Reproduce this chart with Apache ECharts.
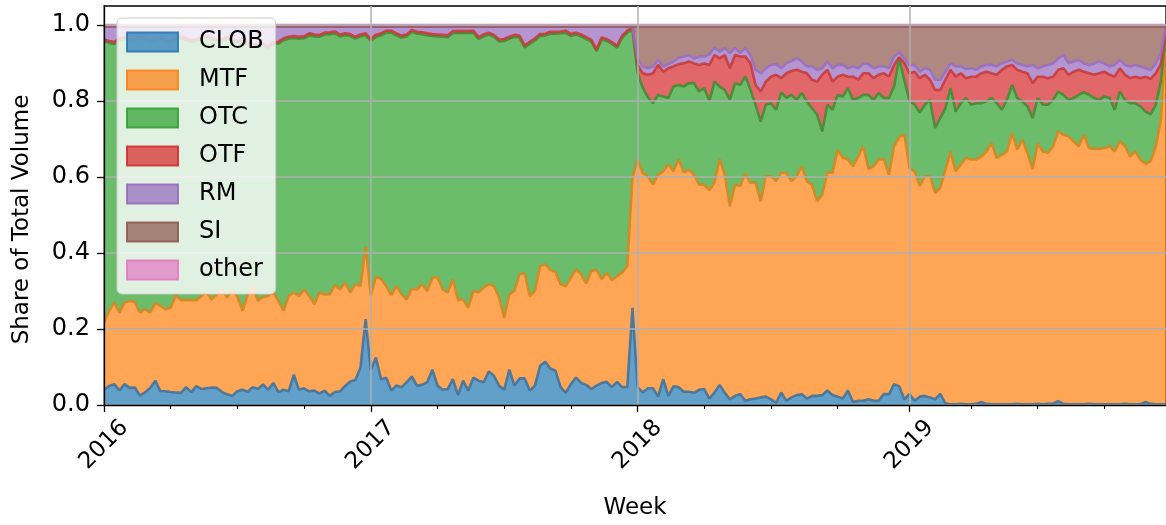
<!DOCTYPE html>
<html><head><meta charset="utf-8">
<script src="https://cdn.jsdelivr.net/npm/echarts@6/dist/echarts.min.js"></script>
<style>html,body{margin:0;padding:0;background:#fff}#c{width:1166px;height:525px}</style>
</head><body><div id="c"></div>
<script>
const seriesNames = ['CLOB','MTF','OTC','OTF','RM','SI','other'];
const yearTicks = [0, 52, 104, 157];
const yearLabels = ['2016', '2017', '2018', '2019'];
const minorTicks = [13, 26, 39, 65, 78, 91, 117, 130, 143, 169, 182, 195];
const yTicks = [0, 0.2, 0.4, 0.6, 0.8, 1.0];

const clob = [
.040,.050,.055,.038,.055,.045,.046,.025,.033,.045,
.064,.036,.036,.034,.033,.032,.047,.034,.050,.042,
.044,.046,.045,.034,.028,.024,.036,.040,.035,.047,
.042,.054,.040,.058,.034,.040,.036,.080,.040,.044,
.036,.038,.030,.038,.024,.034,.036,.050,.062,.066,
.099,.226,.092,.125,.068,.072,.038,.051,.047,.060,
.075,.051,.053,.060,.093,.051,.040,.042,.068,.026,
.064,.038,.072,.064,.060,.088,.077,.051,.040,.093,
.051,.070,.070,.038,.051,.103,.114,.096,.090,.047,
.032,.055,.072,.058,.053,.042,.051,.058,.061,.047,
.061,.047,.047,.256,.047,.033,.044,.044,.022,.068,
.024,.049,.047,.035,.035,.032,.040,.042,.017,.033,
.053,.032,.015,.024,.029,.011,.015,.017,.020,.022,
.015,.006,.033,.011,.020,.026,.028,.017,.024,.024,
.026,.038,.026,.022,.017,.038,.008,.011,.011,.015,
.011,.011,.029,.028,.055,.049,.015,.029,.011,.022,
.024,.020,.015,.029,.004,.002,.002,.003,.002,.002,
.003,.008,.003,.002,.002,.002,.002,.002,.003,.002,
.002,.002,.003,.002,.003,.004,.010,.003,.002,.002,
.002,.002,.003,.002,.002,.002,.002,.002,.002,.003,
.002,.002,.002,.008,.003,.002,.002,.002];

const mtf = [
.177,.198,.215,.205,.215,.229,.225,.218,.219,.198,
.204,.225,.216,.222,.256,.244,.229,.242,.226,.245,
.252,.232,.246,.270,.255,.280,.249,.208,.255,.268,
.232,.230,.247,.238,.240,.208,.251,.216,.247,.260,
.251,.227,.266,.253,.267,.281,.268,.272,.234,.252,
.214,.192,.195,.212,.264,.241,.251,.262,.244,.218,
.231,.253,.265,.240,.242,.286,.264,.254,.263,.250,
.214,.218,.228,.232,.249,.230,.236,.232,.190,.198,
.249,.274,.276,.249,.249,.263,.256,.259,.260,.271,
.281,.280,.285,.286,.267,.311,.304,.273,.287,.281,
.278,.301,.319,.342,.599,.578,.558,.536,.584,.547,
.609,.566,.600,.577,.584,.574,.540,.538,.548,.553,
.594,.574,.508,.556,.547,.598,.569,.569,.516,.580,
.587,.583,.578,.600,.569,.576,.600,.572,.556,.512,
.528,.574,.585,.650,.633,.609,.620,.643,.670,.606,
.617,.635,.618,.578,.626,.656,.696,.595,.604,.554,
.578,.582,.543,.542,.615,.665,.613,.630,.648,.644,
.643,.646,.664,.687,.648,.657,.665,.714,.669,.696,
.661,.619,.685,.665,.660,.677,.710,.708,.705,.692,
.679,.709,.673,.672,.672,.674,.679,.665,.692,.678,
.652,.665,.644,.627,.638,.679,.748,.973];

const otc = [
.740,.705,.680,.717,.693,.681,.687,.722,.709,.712,
.692,.702,.705,.697,.672,.689,.684,.679,.682,.676,
.671,.683,.664,.653,.680,.656,.668,.710,.660,.630,
.669,.663,.650,.654,.677,.712,.677,.670,.677,.661,
.686,.705,.673,.684,.685,.663,.666,.651,.675,.646,
.657,.555,.671,.632,.641,.667,.691,.660,.676,.692,
.676,.673,.658,.673,.636,.633,.665,.672,.648,.703,
.701,.723,.680,.667,.661,.657,.656,.674,.728,.673,
.669,.623,.595,.664,.660,.605,.602,.622,.627,.660,
.667,.636,.618,.626,.643,.603,.576,.631,.610,.622,
.601,.619,.614,.390,.229,.224,.208,.214,.210,.197,
.175,.223,.195,.226,.228,.241,.245,.254,.234,.265,
.191,.223,.280,.267,.266,.256,.246,.204,.210,.188,
.192,.188,.212,.197,.227,.201,.193,.210,.201,.228,
.166,.178,.166,.144,.162,.187,.175,.154,.135,.195,
.175,.175,.161,.202,.157,.207,.144,.176,.175,.194,
.188,.201,.171,.184,.162,.167,.157,.161,.158,.144,
.148,.140,.132,.119,.144,.118,.136,.126,.136,.101,
.123,.134,.120,.123,.127,.122,.105,.105,.096,.114,
.135,.112,.140,.134,.129,.136,.127,.110,.131,.122,
.140,.127,.140,.137,.124,.109,.101,.010];

const otf = [
.005,.005,.005,.005,.005,.005,.005,.005,.005,.005,
.005,.005,.005,.005,.005,.005,.005,.005,.005,.005,
.005,.005,.005,.005,.005,.005,.005,.005,.005,.005,
.005,.005,.005,.005,.005,.005,.005,.005,.005,.005,
.005,.005,.005,.005,.005,.005,.005,.005,.005,.005,
.005,.005,.005,.005,.005,.005,.005,.005,.005,.005,
.005,.005,.005,.005,.005,.005,.005,.005,.005,.005,
.005,.005,.005,.005,.005,.005,.005,.005,.005,.005,
.005,.005,.005,.005,.005,.005,.005,.005,.005,.005,
.005,.005,.005,.005,.005,.005,.005,.005,.005,.005,
.005,.005,.005,.005,.020,.038,.059,.079,.079,.065,
.078,.053,.055,.061,.057,.052,.070,.065,.096,.070,
.074,.092,.083,.074,.075,.052,.069,.052,.079,.061,
.070,.092,.037,.065,.063,.079,.056,.074,.075,.087,
.149,.092,.074,.048,.057,.030,.061,.048,.057,.057,
.057,.048,.065,.056,.057,.003,.045,.073,.087,.090,
.079,.053,.100,.074,.075,.048,.092,.079,.052,.074,
.070,.079,.078,.065,.075,.105,.088,.053,.074,.078,
.087,.092,.056,.074,.070,.061,.057,.070,.066,.069,
.066,.054,.057,.061,.070,.065,.061,.087,.061,.066,
.066,.070,.074,.092,.093,.083,.046,.005];

const rm = [
.034,.038,.041,.031,.028,.036,.033,.026,.030,.036,
.031,.028,.034,.038,.030,.026,.031,.036,.033,.028,
.024,.030,.036,.034,.028,.031,.038,.033,.041,.046,
.048,.044,.054,.041,.040,.031,.027,.025,.027,.026,
.018,.021,.022,.016,.015,.013,.021,.018,.020,.027,
.021,.018,.033,.022,.018,.011,.011,.018,.024,.021,
.009,.014,.015,.018,.020,.021,.022,.023,.012,.012,
.012,.012,.011,.028,.021,.016,.022,.034,.033,.027,
.022,.024,.050,.040,.031,.020,.019,.014,.014,.013,
.011,.020,.016,.021,.028,.035,.060,.029,.033,.041,
.051,.024,.011,.003,.017,.018,.017,.018,.013,.014,
.011,.013,.017,.018,.017,.013,.022,.018,.028,.020,
.018,.018,.040,.018,.009,.022,.022,.040,.048,.035,
.031,.028,.026,.026,.026,.030,.027,.018,.035,.031,
.017,.022,.035,.031,.026,.022,.027,.030,.026,.024,
.026,.022,.018,.022,.022,.013,.012,.020,.018,.017,
.017,.026,.027,.027,.021,.017,.027,.018,.024,.022,
.018,.018,.018,.022,.022,.017,.013,.013,.017,.018,
.018,.048,.022,.027,.035,.035,.030,.035,.030,.027,
.026,.022,.022,.030,.031,.022,.022,.031,.022,.026,
.031,.031,.031,.022,.024,.026,.028,.004];

const si = [
0,0,0,0,0,0,0,0,0,0,
0,0,0,0,0,0,0,0,0,0,
0,0,0,0,0,0,0,0,0,0,
0,0,0,0,0,0,0,0,0,0,
0,0,0,0,0,0,0,0,0,0,
0,0,0,0,0,0,0,0,0,0,
0,0,0,0,0,0,0,0,0,0,
0,0,0,0,0,0,0,0,0,0,
0,0,0,0,0,0,0,0,0,0,
0,0,0,0,0,0,0,0,0,0,
0,0,0,0,.084,.105,.110,.105,.088,.105,
.099,.092,.082,.079,.075,.084,.079,.079,.073,.055,
.066,.057,.070,.057,.070,.057,.075,.114,.123,.110,
.101,.099,.110,.097,.091,.084,.092,.105,.105,.114,
.110,.092,.110,.101,.101,.110,.105,.110,.097,.099,
.110,.105,.105,.110,.079,.068,.084,.103,.101,.119,
.110,.114,.140,.140,.119,.097,.105,.105,.112,.110,
.114,.105,.101,.101,.105,.097,.092,.088,.097,.101,
.105,.101,.110,.105,.101,.097,.084,.075,.097,.092,
.088,.097,.101,.097,.092,.097,.105,.101,.088,.101,
.105,.101,.105,.110,.114,.097,.071,.002];

const other = [
.004,.004,.004,.004,.004,.004,.004,.004,.004,.004,
.004,.004,.004,.004,.004,.004,.004,.004,.004,.004,
.004,.004,.004,.004,.004,.004,.004,.004,.004,.004,
.004,.004,.004,.004,.004,.004,.004,.004,.004,.004,
.004,.004,.004,.004,.004,.004,.004,.004,.004,.004,
.004,.004,.004,.004,.004,.004,.004,.004,.004,.004,
.004,.004,.004,.004,.004,.004,.004,.004,.004,.004,
.004,.004,.004,.004,.004,.004,.004,.004,.004,.004,
.004,.004,.004,.004,.004,.004,.004,.004,.004,.004,
.004,.004,.004,.004,.004,.004,.004,.004,.004,.004,
.004,.004,.004,.004,.004,.004,.004,.004,.004,.004,
.004,.004,.004,.004,.004,.004,.004,.004,.004,.004,
.004,.004,.004,.004,.004,.004,.004,.004,.004,.004,
.004,.004,.004,.004,.004,.004,.004,.004,.004,.004,
.004,.004,.004,.004,.004,.004,.004,.004,.004,.004,
.004,.004,.004,.004,.004,.004,.004,.004,.004,.004,
.004,.004,.004,.004,.004,.004,.004,.004,.004,.004,
.004,.004,.004,.004,.004,.004,.004,.004,.004,.004,
.004,.004,.004,.004,.004,.004,.004,.004,.004,.004,
.004,.004,.004,.004,.004,.004,.004,.004,.004,.004,
.004,.004,.004,.004,.004,.004,.004,.004];

const colors = [[31,119,180],[255,127,14],[44,160,44],[214,39,40],[148,103,189],[140,86,75],[227,119,194]];
const edgeColors = ['#42739a', '#d4871f', '#468c33', '#c93b3b', '#9a6fc0', '#8c5a50', '#dc78bf'];
const values = [clob, mtf, otc, otf, rm, si, other];
function rgba(c, a) { return 'rgba(' + c[0] + ',' + c[1] + ',' + c[2] + ',' + a + ')'; }
const FONT = 'DejaVu Sans';
const weeks = clob.map((_, i) => String(i));
const isYear = (i) => yearTicks.indexOf(i) >= 0;
const isMinor = (i) => minorTicks.indexOf(i) >= 0;

const areaSeries = seriesNames.map((name, k) => ({
  name: name, type: 'line', stack: 'areas', symbol: 'none', showSymbol: false,
  data: values[k],
  lineStyle: { width: 0, opacity: 0 },
  itemStyle: { color: rgba(colors[k], 1) },
  areaStyle: { color: rgba(colors[k], 1), opacity: 0.7 },
  emphasis: { disabled: true }, silent: true, z: 1
}));
const lineSeries = seriesNames.map((name, k) => ({
  name: name + ' edge', type: 'line', stack: 'edges', symbol: 'none', showSymbol: false,
  data: values[k],
  lineStyle: { width: 2.6, color: edgeColors[k], opacity: 0.9 },
  itemStyle: { color: edgeColors[k] },
  emphasis: { disabled: true }, silent: true, z: 2
}));

const chart = echarts.init(document.getElementById('c'), null, { renderer: 'canvas' });
chart.setOption({
  animation: false,
  textStyle: { fontFamily: FONT },
  grid: { left: 104, top: 6, right: -1, bottom: 118, show: true, borderColor: '#000', borderWidth: 1.3, backgroundColor: 'transparent' },
  legend: {
    orient: 'vertical', left: 117, top: 18,
    data: seriesNames.map((n, k) => ({ name: n, itemStyle: { color: rgba(colors[k], 0.7), borderColor: rgba(colors[k], 0.85), borderWidth: 2 } })),
    icon: 'rect', itemWidth: 51, itemHeight: 19, itemGap: 14,
    padding: [12, 12, 12, 9],
    backgroundColor: 'rgba(255,255,255,0.8)', borderColor: '#cccccc', borderWidth: 1, borderRadius: 5,
    textStyle: { fontSize: 24, color: '#000', fontFamily: FONT, padding: [0, 0, 0, 16] },
    selectedMode: false, z: 10
  },
  xAxis: [{
    type: 'category', data: weeks, boundaryGap: false, z: 3,
    axisLine: { show: true, lineStyle: { color: '#000', width: 1.3 } },
    axisTick: { show: true, interval: (i) => isYear(i), length: 7, lineStyle: { color: '#000', width: 1.3 } },
    axisLabel: { interval: (i) => isYear(i), formatter: (v) => { const j = yearTicks.indexOf(Number(v)); return j >= 0 ? yearLabels[j] : ''; },
      rotate: 45, align: 'center', verticalAlign: 'middle', margin: 40, fontSize: 23, color: '#000', fontFamily: FONT },
    splitLine: { show: true, interval: (i) => isYear(i), lineStyle: { color: '#b0b0b0', width: 1.5 } },
    name: 'Week', nameLocation: 'middle', nameGap: 92,
    nameTextStyle: { fontSize: 23, color: '#000', fontFamily: FONT }
  }, {
    type: 'category', data: weeks, boundaryGap: false, position: 'bottom', gridIndex: 0, z: 3,
    axisLine: { show: false }, axisLabel: { show: false }, splitLine: { show: false },
    axisTick: { show: true, interval: (i) => isMinor(i), length: 4, lineStyle: { color: '#000', width: 1 } }
  }],
  yAxis: {
    type: 'value', min: 0, max: 1.05, z: 3,
    axisLine: { show: true, lineStyle: { color: '#000', width: 1.3 } },
    axisTick: { show: true, customValues: yTicks, length: 7, lineStyle: { color: '#000', width: 1.3 } },
    axisLabel: { customValues: yTicks, formatter: v => v.toFixed(1), fontSize: 24, margin: 14, color: '#000', fontFamily: FONT },
    splitLine: { show: true, lineStyle: { color: '#b0b0b0', width: 1.5 } },
    name: 'Share of Total Volume', nameLocation: 'middle', nameGap: 70,
    nameTextStyle: { fontSize: 23, color: '#000', fontFamily: FONT, padding: [0, 28, 0, 0] }
  },
  series: areaSeries.concat(lineSeries)
});
</script>
</body></html>
